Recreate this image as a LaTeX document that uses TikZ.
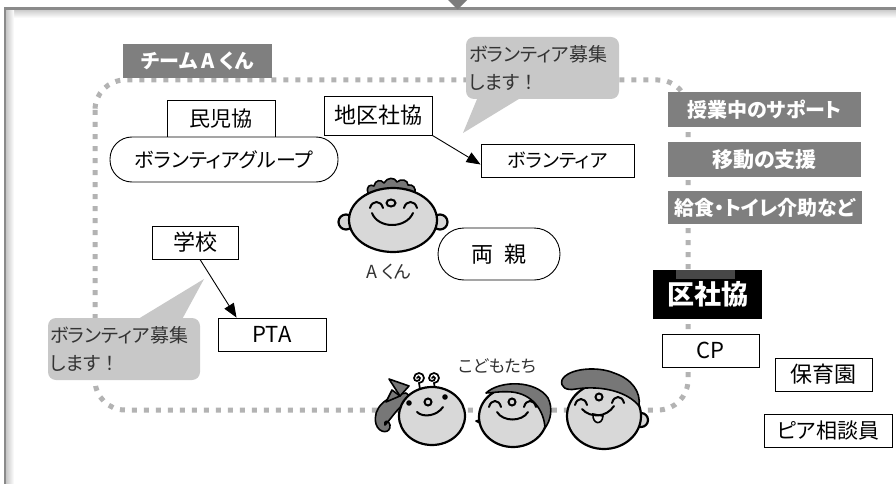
\documentclass[tikz,border=0pt]{standalone}
\usepackage{fontspec}
\newfontfamily\jp{Noto Sans CJK JP}
\newfontfamily\jpp[RawFeature={+palt}]{Noto Sans CJK JP}
\usetikzlibrary{arrows.meta,calc}
\definecolor{framegray}{HTML}{8A8A8A}
\definecolor{labgray}{HTML}{7F7F7F}
\definecolor{bubblegray}{HTML}{C8C8C8}
\definecolor{dotgray}{HTML}{B3B3B3}
\definecolor{facegray}{HTML}{D8D8D8}
\definecolor{hairgray}{HTML}{777777}
\definecolor{textdark}{HTML}{333333}
\newcommand{\fs}[1]{\fontsize{#1}{#1}\selectfont}
\tikzset{
  box/.style={draw=black, line width=0.9pt, fill=white, inner sep=0pt, text=black,
    font=\jp\fs{20}},
  pill/.style={box, rounded corners=22pt},
  graylab/.style={fill=labgray, inner sep=0pt, text=white, font=\jpp\bfseries\fs{20}},
  bubble/.style={fill=bubblegray, rounded corners=8pt, inner sep=0pt, align=left,
    text=textdark, font=\jpp\fontsize{19}{28}\selectfont},
  face/.style={fill=facegray, draw=black, line width=2.2pt},
  hair/.style={fill=hairgray, draw=black, line width=1.6pt, line join=round},
  feat/.style={draw=black, line width=2pt, line cap=round},
  conn/.style={draw=black, line width=0.9pt, -{Triangle[length=14pt,width=11pt]}}
}
\begin{document}
\begin{tikzpicture}[x=1pt, y=-1pt]
\useasboundingbox (0,0) rectangle (896,484);
\fill[white] (0,0) rectangle (896,484);

% outer frame with soft inner shadow
\shade[top color=black!22, bottom color=white] (6,9) rectangle (896,18);
\shade[left color=black!22, right color=white] (6,9) rectangle (14,484);
\draw[framegray, line width=2.5pt] (5,484) -- (5,8.5) -- (896,8.5);
\fill[framegray!90!black] (448,0) -- (467,0) -- (457.5,9.5) -- cycle;

% dotted team boundary
\draw[dotgray, line width=5pt, dash pattern=on 5pt off 7pt, rounded corners=30pt]
  (95,80) rectangle (688,410);

% team label
\node[graylab, font=\jpp\bfseries\fs{20}, minimum width=149pt, minimum height=34pt]
  (team) at (197.5,61) {チーム A くん};

% upper-left group
\node[box, font=\jp\fs{21}, minimum width=108pt, minimum height=37pt] (minji) at (221,118.5) {民児協};
\node[pill, font=\jpp\fs{20}, minimum width=228pt, minimum height=45pt]
  (volg) at (224,159.5) {ボランティアグループ};

\node[box, font=\jp\fs{22}, minimum width=108pt, minimum height=39pt]
  (chiku) at (378,115.5) {地区社協};
\node[box, font=\jpp\fs{19}, minimum width=153pt, minimum height=33pt]
  (vol) at (557.5,160.5) {ボランティア};
\draw[conn] (chiku.south east) -- ([yshift=-4pt]vol.west);

% speech bubble, top
\node[bubble, minimum width=153pt, minimum height=62pt, text width=147pt]
  (bub1) at (542.5,68) {ボランティア募集\\します{\jp ！}};
\coordinate (tip1) at (463,133);
\fill[bubblegray] ([xshift=12pt,yshift=2pt]bub1.south west) -- (tip1)
  -- ([xshift=56pt,yshift=2pt]bub1.south west) -- cycle;

% school and PTA
\node[box, font=\jp\fs{22}, minimum width=86pt, minimum height=33pt]
  (school) at (195,242.5) {学校};
\node[box, font=\jp\fs{22}, minimum width=108pt, minimum height=33pt]
  (pta) at (272,334.5) {PTA};
\draw[conn] ([xshift=5pt]school.south) -- ([xshift=19pt]pta.north west);

% speech bubble, left
\node[bubble, minimum width=152pt, minimum height=62pt, text width=148pt]
  (bub2) at (124,349) {ボランティア募集\\します{\jp ！}};
\coordinate (tip2) at (204,279);
\fill[bubblegray] ([xshift=89pt,yshift=-2pt]bub2.north west) -- (tip2)
  -- ([xshift=134pt,yshift=-2pt]bub2.north west) -- cycle;

% parents
\node[pill, font=\jp\fs{22}, rounded corners=26pt, minimum width=122pt, minimum height=52pt]
  (ryoshin) at (499,254) {両\hspace{12pt}親};

% support items
\node[graylab, minimum width=193pt, minimum height=35pt] (jugyo) at (764.5,109.5) {授業中のサポート};
\node[graylab, font=\jpp\bfseries\fs{21}, minimum width=193pt, minimum height=35pt]
  (ido) at (764.5,159.5) {移動の支援};
\node[graylab, minimum width=194pt, minimum height=33pt]
  (kyushoku) at (765,207.5) {給食・トイレ介助など};

% ward council and partners
\node[fill=black, inner sep=0pt, text=white, font=\jp\bfseries\fs{27},
  minimum width=109pt, minimum height=49pt] (kushakyo) at (707.5,294.5) {区社協};
\fill[black!72] (676,270) rectangle (735,279);
\node[box, font=\jp\fs{22}, minimum width=97pt, minimum height=33pt] (cp) at (710.5,350.5) {CP};
\node[box, font=\jp\fs{22}, minimum width=97pt, minimum height=33pt] (hoiku) at (823.5,374.5) {保育園};
\node[box, font=\jpp\fs{21}, minimum width=128pt, minimum height=33pt] (peer) at (828,430.5) {ピア相談員};

% A-kun
\filldraw[face] (346,222) circle[radius=7.5pt];
\filldraw[face] (440,222) circle[radius=7.5pt];
\filldraw[hair] (368,193) .. controls (366,186) and (370,184) .. (374,186)
  .. controls (375,180) and (381,179) .. (384,183) .. controls (387,177) and (395,177) .. (397,182)
  .. controls (401,178) and (408,180) .. (408,185) .. controls (413,184) and (416,188) .. (415,193) -- cycle;
\filldraw[face] (393,220) ellipse[x radius=44pt, y radius=32pt];
\draw[feat] (370,208) .. controls (372,200) and (381,200) .. (383,208);
\draw[feat] (404,208) .. controls (406,200) and (415,200) .. (417,208);
\draw[feat] (391,203) ellipse[x radius=4.5pt, y radius=3.5pt];
\draw[feat] (372,213) .. controls (378,229) and (406,229) .. (413,213);
\node[font=\jpp\fs{18}, text=textdark] (akun) at (389,272) {A くん};

% children
\node[font=\jpp\fs{17}, text=textdark] (kodomo) at (497,366) {こどもたち};
% girl
\filldraw[hair] (406,393) .. controls (386,396) and (372,408) .. (376,424)
  .. controls (379,434) and (391,434) .. (390,425) .. controls (389,419) and (383,421) .. (385,425)
  .. controls (392,418) and (398,406) .. (412,398) -- cycle;
\draw[feat, line width=1.7pt] (420,389) -- (419,383) arc[start angle=-90, end angle=180, radius=5pt]
  arc[start angle=180, end angle=360, radius=3pt] arc[start angle=0, end angle=180, radius=1.5pt];
\draw[feat, line width=1.7pt] (435,389) -- (434,383) arc[start angle=-90, end angle=180, radius=5pt]
  arc[start angle=180, end angle=360, radius=3pt] arc[start angle=0, end angle=180, radius=1.5pt];
\filldraw[face] (432,416) ellipse[x radius=33pt, y radius=29pt];
\filldraw[hair] (400,396) -- (389,379) -- (409,386) -- cycle;
\filldraw[hair] (400,396) -- (386,402) -- (392,390) -- cycle;
\fill[black] (409,403) circle[radius=2.8pt];
\fill[black] (445,397) circle[radius=2.8pt];
\draw[feat] (428,402) circle[radius=3.5pt];
\draw[feat] (417,412) .. controls (423,418) and (437,416) .. (443,407);
% boy with cap turned sideways
\filldraw[hair] (486,418) -- (476,421) -- (486,426) -- cycle;
\filldraw[face] (513,417) ellipse[x radius=34pt, y radius=30pt];
\filldraw[hair] (486,393) .. controls (500,380) and (536,380) .. (548,398)
  .. controls (553,408) and (551,420) .. (545,428)
  .. controls (544,410) and (532,394) .. (512,392)
  .. controls (500,391) and (492,393) .. (486,393) -- cycle;
\draw[feat] (489,407) .. controls (491,399) and (499,399) .. (501,407);
\draw[feat] (524,407) .. controls (526,399) and (534,399) .. (536,407);
\draw[feat] (512,402) circle[radius=3.5pt];
\draw[feat] (497,412) .. controls (503,422) and (522,422) .. (528,412);
% boy with cap
\filldraw[face] (641,420) circle[radius=7pt];
\filldraw[face] (604,416) ellipse[x radius=37pt, y radius=33pt];
\filldraw[hair] (562,380) .. controls (568,368) and (598,366) .. (614,373)
  .. controls (632,379) and (641,392) .. (639,406)
  .. controls (628,392) and (602,385) .. (576,389)
  .. controls (566,391) and (560,387) .. (562,380) -- cycle;
\draw[feat] (575,405) .. controls (577,397) and (585,397) .. (587,405);
\draw[feat] (612,403) .. controls (614,395) and (622,395) .. (624,403);
\draw[feat] (599,397) circle[radius=3.5pt];
\filldraw[fill=facegray!60, draw=black, line width=1.6pt] (593,414) .. controls (592,424) and (602,426) .. (603,416) -- cycle;
\draw[feat] (582,409) .. controls (590,418) and (606,418) .. (614,406);
\end{tikzpicture}
\end{document}
